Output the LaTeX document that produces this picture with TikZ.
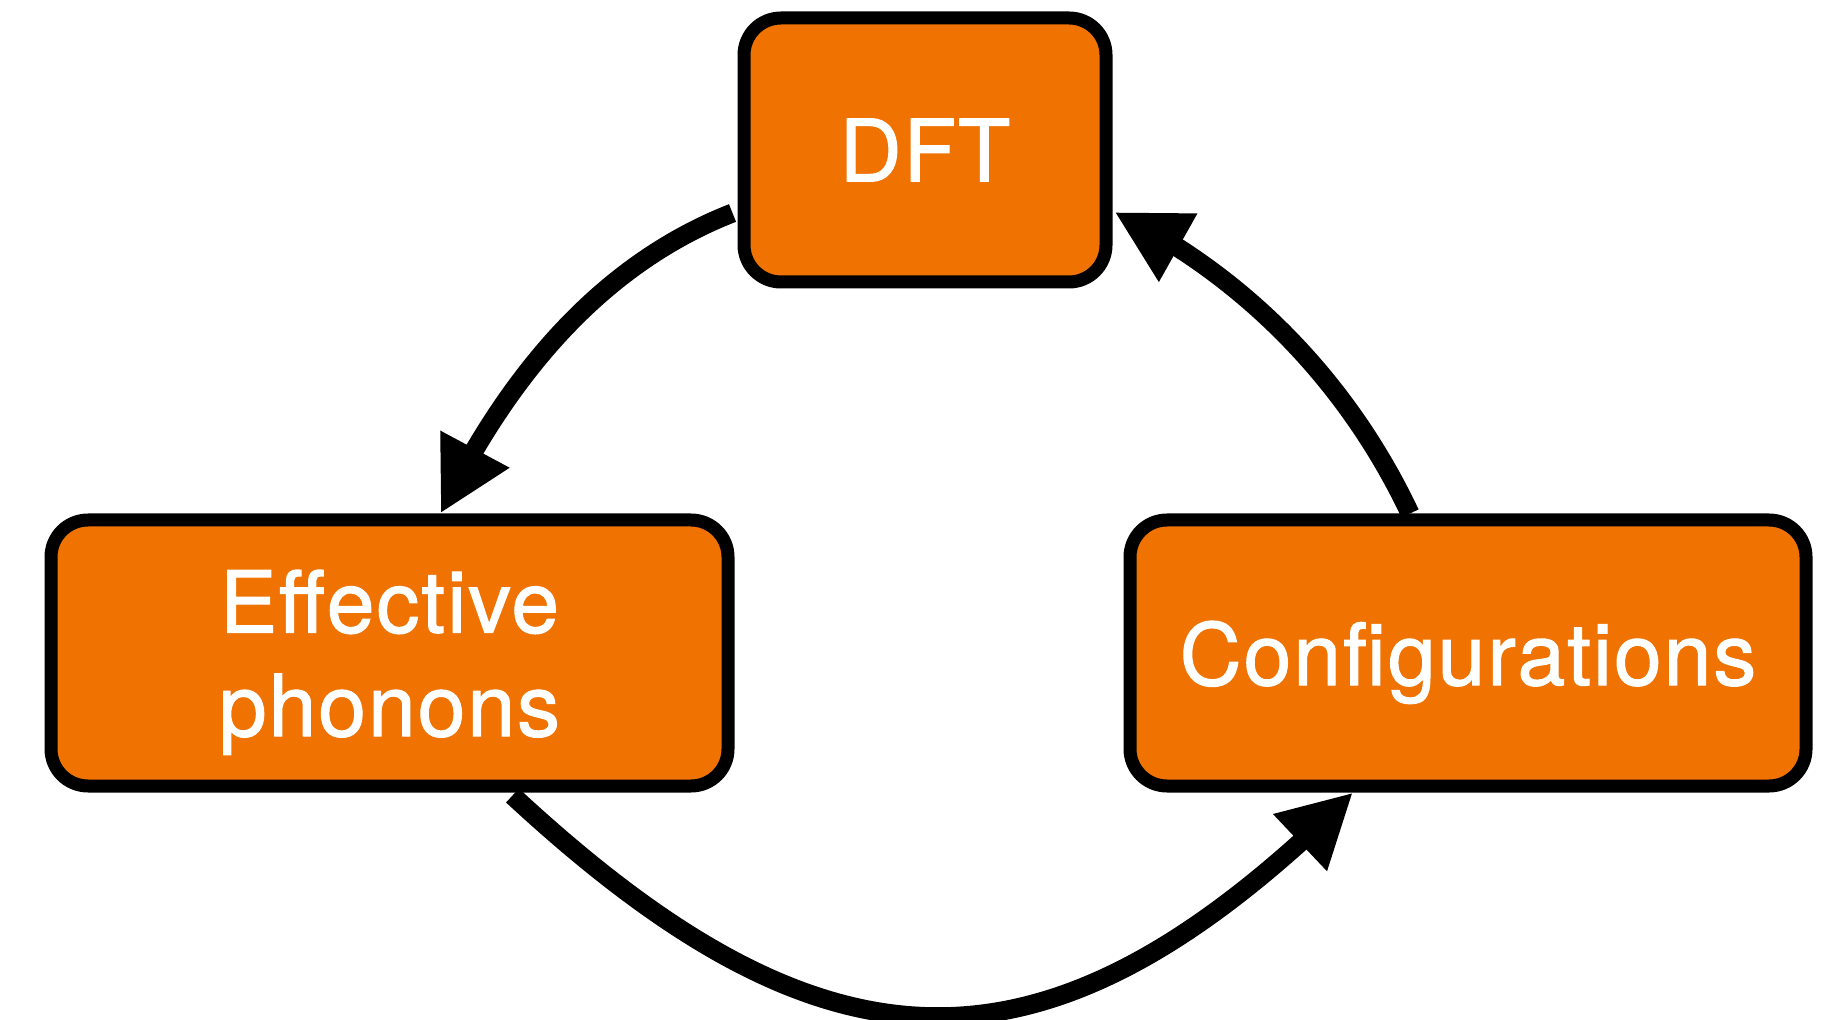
\documentclass[tikz,border=0pt]{standalone}
\usepackage{fontspec}
\newfontfamily\labelfont{TeX Gyre Heros}[FakeBold=1.2, LetterSpace=2.2]
\usetikzlibrary{arrows.meta,bending,calc}
\definecolor{boxorange}{RGB}{240,114,0}
\begin{document}
\begin{tikzpicture}[x=0.5pt,y=-0.5pt,
  stage/.style={draw=black, line width=6.5pt, fill=boxorange,
    rounded corners=18.5pt, minimum height=133pt, inner sep=0pt,
    text=white, font=\labelfont\fontsize{43}{51.75}\selectfont,
    text depth=0pt, align=center},
  flow/.style={line width=9.5pt, -{Triangle[length=36.5pt,width=36.5pt,flex]}}]
\useasboundingbox (0,0) rectangle (1845,1020);

% the three stages of the cycle
\node[stage, minimum width=181pt, minimum height=132pt] (dft) at (925,150) {DFT};
\node[stage, minimum width=338.5pt] (eff) at (389.5,653) {Effective\\phonons};
\node[stage, minimum width=338pt] (conf) at (1468,653) {Configurations};

% arrows between the stages (the two upper ones are near-circular arcs)
\draw[flow] ($(dft.west)+(-5,63)$) .. controls (597,266) and (505,381) .. ($(eff.north)+(51,0)$);
\draw[flow] ($(eff.south)+(123,3)$) .. controls (830,1090) and (1050,1092) .. ($(conf.south)+(-115,0)$);
\draw[flow] ($(conf.north)+(-58,0)$) .. controls (1348,382) and (1244,275) .. ($(dft.east)+(2,62)$);
\end{tikzpicture}
\end{document}
